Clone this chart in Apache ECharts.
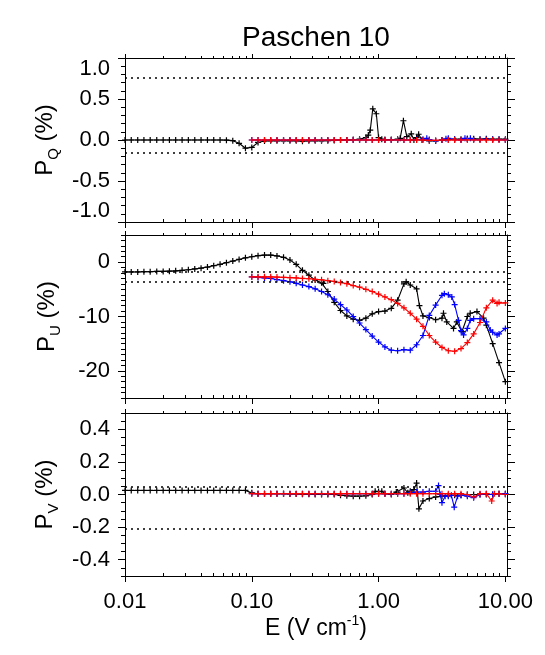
<!DOCTYPE html>
<html>
<head>
<meta charset="utf-8">
<script src="https://cdn.jsdelivr.net/npm/echarts@6/dist/echarts.min.js"></script>
<style>
  html, body { margin: 0; padding: 0; background: #fff; }
  #main { width: 545px; height: 655px; }
</style>
</head>
<body>
<div id="main"></div>
<script>
const FONT = '"Liberation Sans", Arial, sans-serif';

// tick values
const eTicks = [0.01, 0.1, 1, 10];
const qTicks = [-1, -0.5, 0, 0.5, 1];
const uTicks = [-20, -10, 0];
const vTicks = [-0.4, -0.2, 0, 0.2, 0.4];

// dotted reference levels
const qLevels = [0.76, -0.16];
const uLevels = [-1.7, -3.6];
const vLevels = [0.05, -0.21];

// P_Q (%)
const qBlack = [[0.0100,0],[0.0112,0],[0.0126,0],[0.0141,0],[0.0158,0],[0.0178,0],[0.0200,0],[0.0224,0],[0.0251,0],[0.0282,0],[0.0316,0],[0.0355,0],[0.0398,0],[0.0447,0],[0.0501,0],[0.0562,0],[0.0631,-0.002],[0.0708,-0.008],[0.0794,-0.04],[0.0891,-0.1],[0.100,-0.09],[0.112,-0.03],[0.126,-0.012],[0.141,-0.01],[0.158,-0.01],[0.178,-0.01],[0.200,-0.01],[0.224,-0.01],[0.251,-0.015],[0.282,-0.01],[0.316,-0.01],[0.355,-0.01],[0.398,-0.008],[0.447,-0.005],[0.501,0],[0.562,0],[0.631,0.005],[0.708,0.01],[0.794,0.03],[0.83,0.06],[0.86,0.12],[0.90,0.38],[0.96,0.32],[1.00,0.03],[1.06,0.01],[1.122,0.005],[1.259,0.005],[1.413,0.01],[1.48,0.02],[1.57,0.235],[1.67,0.04],[1.81,0.075],[1.90,0.0],[1.995,0.03],[2.07,0.07],[2.20,0.0],[2.512,-0.01],[2.818,-0.01],[3.162,0.0],[3.548,0.005],[3.981,0.01],[4.467,0.01],[5.012,0.015],[5.623,0.015],[6.310,0.01],[7.079,0.015],[7.943,0.01],[8.913,0.01],[10.00,0.01]];
const qBlue = [[0.100,0],[0.112,0],[0.126,0],[0.141,0],[0.158,0],[0.178,0],[0.200,0],[0.224,0],[0.251,0],[0.282,0],[0.316,0],[0.355,0],[0.398,0],[0.447,0],[0.501,0],[0.562,0],[0.631,0],[0.708,0],[0.794,0],[0.891,0],[1.000,0],[1.122,0],[1.259,0],[1.413,0],[1.585,0],[1.778,0],[1.995,0.005],[2.239,0.01],[2.40,0.02],[2.512,0.005],[2.818,-0.01],[3.162,0],[3.40,0.015],[3.548,0.02],[3.981,0.005],[4.467,0],[4.80,0.02],[5.012,0.015],[5.30,0.02],[5.623,0.005],[6.310,0.005],[7.079,0.01],[7.943,0.005],[8.913,0.005],[10.00,0]];
const qRed = [[0.100,0],[0.112,0],[0.126,0],[0.141,0],[0.158,0],[0.178,0],[0.200,0],[0.224,0],[0.251,0],[0.282,0],[0.316,0],[0.355,0],[0.398,0],[0.447,0],[0.501,0],[0.562,0],[0.631,0],[0.708,0],[0.794,0],[0.891,0],[1.000,0],[1.122,0],[1.259,0],[1.413,0],[1.585,0],[1.778,0],[1.995,0],[2.239,0],[2.512,-0.005],[2.818,-0.005],[3.162,0],[3.548,0],[3.981,0],[4.467,0],[5.012,0],[5.623,0],[6.310,0],[7.079,0],[7.943,0],[8.913,0],[10.00,0]];

// P_U (%)
const uBlack = [[0.0100,-1.8],[0.0112,-1.8],[0.0126,-1.8],[0.0141,-1.75],[0.0158,-1.75],[0.0178,-1.7],[0.0200,-1.7],[0.0224,-1.65],[0.0251,-1.6],[0.0282,-1.5],[0.0316,-1.4],[0.0355,-1.25],[0.0398,-1.1],[0.0447,-0.9],[0.0501,-0.65],[0.0562,-0.4],[0.0631,-0.1],[0.0708,0.2],[0.0794,0.5],[0.0891,0.8],[0.100,1.0],[0.112,1.2],[0.126,1.3],[0.141,1.3],[0.158,1.15],[0.178,0.9],[0.200,0.4],[0.224,-0.4],[0.251,-1.5],[0.282,-2.4],[0.316,-3.3],[0.355,-3.8],[0.367,-3.9],[0.398,-5.4],[0.447,-7.4],[0.501,-8.9],[0.562,-9.9],[0.631,-10.5],[0.708,-10.7],[0.794,-10.3],[0.891,-9.5],[1.000,-9.1],[1.122,-9.0],[1.259,-8.5],[1.413,-7.0],[1.585,-4.0],[1.65,-3.6],[1.778,-4.2],[1.995,-4.9],[2.10,-8.0],[2.239,-9.9],[2.512,-10.2],[2.818,-10.6],[3.162,-10.3],[3.25,-9.4],[3.45,-11.0],[3.90,-12.2],[4.14,-11.0],[4.54,-12.8],[5.012,-10.0],[5.28,-9.4],[5.97,-9.1],[6.73,-10.3],[7.079,-11.6],[7.943,-15.0],[8.913,-18.5],[10.00,-22.0]];
const uBlue = [[0.100,-2.7],[0.112,-2.8],[0.126,-2.9],[0.141,-3.0],[0.158,-3.2],[0.178,-3.4],[0.200,-3.6],[0.224,-3.9],[0.251,-4.2],[0.282,-4.5],[0.316,-4.9],[0.355,-5.4],[0.398,-6.0],[0.447,-6.8],[0.501,-7.8],[0.562,-8.8],[0.631,-10.0],[0.708,-11.2],[0.794,-12.4],[0.891,-13.6],[1.000,-14.7],[1.122,-15.6],[1.259,-16.2],[1.413,-16.3],[1.585,-16.1],[1.778,-16.2],[1.995,-15.2],[2.239,-13.5],[2.512,-9.8],[2.818,-7.9],[3.162,-6.1],[3.30,-5.8],[3.548,-6.0],[3.78,-6.4],[3.981,-7.8],[4.27,-10.7],[4.467,-12.6],[4.68,-13.4],[5.012,-12.2],[5.28,-10.7],[5.623,-10.4],[6.310,-10.4],[7.079,-11.0],[7.60,-12.5],[7.943,-12.9],[8.60,-13.4],[8.913,-13.2],[10.00,-12.2]];
const uRed = [[0.100,-2.7],[0.112,-2.7],[0.126,-2.7],[0.141,-2.7],[0.158,-2.75],[0.178,-2.8],[0.200,-2.85],[0.224,-2.9],[0.251,-3.0],[0.282,-3.05],[0.316,-3.15],[0.355,-3.25],[0.398,-3.4],[0.447,-3.55],[0.501,-3.75],[0.562,-3.95],[0.631,-4.3],[0.708,-4.6],[0.794,-5.0],[0.891,-5.4],[1.000,-5.9],[1.122,-6.4],[1.259,-6.9],[1.413,-7.6],[1.585,-8.4],[1.778,-9.4],[1.995,-10.5],[2.239,-11.8],[2.512,-13.5],[2.818,-14.7],[3.162,-15.7],[3.548,-16.3],[3.981,-16.4],[4.467,-15.9],[5.012,-14.8],[5.623,-13.2],[6.310,-11.1],[7.079,-8.4],[7.943,-7.0],[8.60,-7.6],[8.913,-7.4],[10.00,-7.5]];

// P_V (%)
const vBlack = [[0.0100,0.025],[0.0112,0.025],[0.0126,0.025],[0.0141,0.025],[0.0158,0.025],[0.0178,0.025],[0.0200,0.025],[0.0224,0.025],[0.0251,0.025],[0.0282,0.025],[0.0316,0.025],[0.0355,0.025],[0.0398,0.025],[0.0447,0.025],[0.0501,0.025],[0.0562,0.025],[0.0631,0.025],[0.0708,0.025],[0.0794,0.025],[0.0891,0.025],[0.100,0.01],[0.112,0.005],[0.126,0.005],[0.141,0.005],[0.158,0.005],[0.178,0.005],[0.200,0.003],[0.224,0.003],[0.251,0.002],[0.282,0.002],[0.316,0.0],[0.355,0.0],[0.398,0.0],[0.447,0.0],[0.501,-0.005],[0.562,-0.008],[0.631,-0.01],[0.708,-0.01],[0.794,-0.008],[0.891,0.0],[0.94,0.02],[1.00,0.018],[1.06,0.02],[1.122,0.005],[1.259,0.0],[1.38,0.015],[1.413,0.015],[1.585,0.04],[1.70,0.01],[1.778,0.02],[1.90,0.03],[1.995,0.07],[2.08,-0.088],[2.239,-0.04],[2.512,-0.025],[2.818,-0.015],[3.162,-0.01],[3.548,-0.005],[3.981,-0.005],[4.467,-0.005],[5.012,0.0],[5.623,0.0],[6.310,0.0],[7.079,0.0],[7.943,0.0],[8.913,0.005],[10.00,0.005]];
const vBlue = [[0.100,0.005],[0.112,0.005],[0.126,0.005],[0.141,0.005],[0.158,0.005],[0.178,0.005],[0.200,0.005],[0.224,0.005],[0.251,0.005],[0.282,0.005],[0.316,0.005],[0.355,0.005],[0.398,0.005],[0.447,0.005],[0.501,0.005],[0.562,0.005],[0.631,0.005],[0.708,0.005],[0.794,0.005],[0.891,0.005],[1.000,0.005],[1.122,0.005],[1.259,0.005],[1.413,0.005],[1.585,0.005],[1.778,0.01],[1.995,0.015],[2.239,0.015],[2.512,0.02],[2.818,0.02],[2.97,0.055],[3.06,0.0],[3.162,-0.05],[3.35,-0.01],[3.548,-0.01],[3.75,-0.005],[3.95,-0.078],[4.20,-0.01],[4.467,-0.005],[5.012,-0.01],[5.623,-0.02],[6.310,0.0],[7.079,0.005],[7.943,0.0],[8.913,0.005],[10.00,0.005]];
const vRed = [[0.100,0.005],[0.112,0.005],[0.126,0.005],[0.141,0.005],[0.158,0.005],[0.178,0.005],[0.200,0.005],[0.224,0.005],[0.251,0.005],[0.282,0.005],[0.316,0.005],[0.355,0.005],[0.398,0.005],[0.447,0.005],[0.501,0.005],[0.562,0.005],[0.631,0.005],[0.708,0.005],[0.794,0.005],[0.891,0.005],[1.000,0.005],[1.122,0.005],[1.259,0.005],[1.413,0.005],[1.585,0.005],[1.778,0.005],[1.995,0.005],[2.239,0.005],[2.512,0.005],[2.818,0.005],[3.162,0.005],[3.548,0.005],[3.981,0.005],[4.467,0.005],[5.012,0.0],[5.623,-0.015],[6.310,0.005],[7.079,0.005],[7.80,-0.04],[8.20,0.005],[8.913,0.005],[10.00,0.0]];

const chart = echarts.init(document.getElementById('main'), null, { renderer: 'canvas' });

const PLUS = 'path://M0,4H10V6H0ZM4,0H6V10H4Z';
const AXIS_COLOR = '#000';

// minor tick positions
function logMinor() {
  const out = [];
  [0.01, 0.1, 1].forEach(d => {
    for (let k = 2; k <= 9; k++) out.push(+(d * k).toPrecision(3));
  });
  return out;
}
function linMinor(min, max, step) {
  const out = [];
  const n = Math.round((max - min) / step);
  for (let i = 0; i <= n; i++) out.push(+(min + i * step).toFixed(4));
  return out;
}

const panels = [
  { top: 58, height: 164, min: -1, max: 1, ticks: qTicks, minor: linMinor(-1, 1, 0.1),
    fmt: v => v.toFixed(1), name: '{p|P}{s|Q}{p| (%)}', levels: qLevels, edge: true,
    data: [qBlack, qBlue, qRed] },
  { top: 235, height: 163, min: -25, max: 5, ticks: uTicks, minor: linMinor(-25, 5, 1),
    fmt: v => String(v), name: '{p|P}{s|U}{p| (%)}', levels: uLevels, edge: false,
    data: [uBlack, uBlue, uRed] },
  { top: 413, height: 163, min: -0.5, max: 0.5, ticks: vTicks, minor: linMinor(-0.5, 0.5, 0.05),
    fmt: v => v.toFixed(1), name: '{p|P}{s|V}{p| (%)}', levels: vLevels, edge: false,
    data: [vBlack, vBlue, vRed] }
];

const grid = [], xAxis = [], yAxis = [], series = [];
const nameRich = {
  p: { fontSize: 24, fontFamily: FONT, color: '#000', lineHeight: 32 },
  s: { fontSize: 15, fontFamily: FONT, color: '#000', verticalAlign: 'bottom' },
  u: { fontSize: 14, fontFamily: FONT, color: '#000', verticalAlign: 'top' }
};
const xNameRich = {
  p: { fontSize: 23, fontFamily: FONT, color: '#000', lineHeight: 30 },
  u: { fontSize: 14, fontFamily: FONT, color: '#000', verticalAlign: 'top' }
};

panels.forEach((p, i) => {
  grid.push({ left: 125, width: 382, top: p.top, height: p.height });
  const last = i === panels.length - 1;
  const xBase = { gridIndex: i, type: 'log', min: 0.01, max: 10.3, splitLine: { show: false } };
  // bottom major
  xAxis.push(Object.assign({}, xBase, {
    position: 'bottom',
    axisLine: { show: true, onZero: false, lineStyle: { color: AXIS_COLOR, width: 1 } },
    axisTick: { show: true, inside: false, length: 6, customValues: eTicks, lineStyle: { color: AXIS_COLOR } },
    axisLabel: { show: last, customValues: eTicks, margin: 15, fontSize: 22, fontFamily: FONT, color: '#000',
      formatter: v => v.toFixed(2) },
    name: last ? '{p|E (V cm}{u|-1}{p|)}' : '',
    nameLocation: 'middle', nameGap: 36,
    nameTextStyle: { rich: xNameRich }
  }));
  // bottom minor
  xAxis.push(Object.assign({}, xBase, {
    position: 'bottom',
    axisLine: { show: false, onZero: false },
    axisTick: { show: true, inside: true, length: 3, customValues: logMinor(), lineStyle: { color: AXIS_COLOR } },
    axisLabel: { show: false }
  }));
  // top major
  xAxis.push(Object.assign({}, xBase, {
    position: 'top',
    axisLine: { show: true, onZero: false, lineStyle: { color: AXIS_COLOR, width: 1 } },
    axisTick: { show: true, inside: false, length: 4, customValues: eTicks, lineStyle: { color: AXIS_COLOR } },
    axisLabel: { show: false }
  }));
  // top minor
  xAxis.push(Object.assign({}, xBase, {
    position: 'top',
    axisLine: { show: false, onZero: false },
    axisTick: { show: true, inside: false, length: 2, customValues: logMinor(), lineStyle: { color: AXIS_COLOR } },
    axisLabel: { show: false }
  }));

  const yBase = { gridIndex: i, type: 'value', min: p.min, max: p.max, splitLine: { show: false } };
  const label = { show: true, customValues: p.ticks, margin: 15, fontSize: 22, fontFamily: FONT, color: '#000',
    formatter: p.fmt };
  if (p.edge) {
    label.verticalAlignMinLabel = 'bottom';
    label.verticalAlignMaxLabel = 'top';
  }
  // left major
  yAxis.push(Object.assign({}, yBase, {
    position: 'left',
    axisLine: { show: true, onZero: false, lineStyle: { color: AXIS_COLOR, width: 1 } },
    axisTick: { show: true, inside: false, length: 7, customValues: p.ticks, lineStyle: { color: AXIS_COLOR } },
    axisLabel: label,
    name: p.name, nameLocation: 'middle', nameGap: 62,
    nameTextStyle: { rich: nameRich }
  }));
  // left minor
  yAxis.push(Object.assign({}, yBase, {
    position: 'left',
    axisLine: { show: false, onZero: false },
    axisTick: { show: true, inside: false, length: 4, customValues: p.minor, lineStyle: { color: AXIS_COLOR } },
    axisLabel: { show: false }
  }));
  // right major
  yAxis.push(Object.assign({}, yBase, {
    position: 'right',
    axisLine: { show: true, onZero: false, lineStyle: { color: AXIS_COLOR, width: 1 } },
    axisTick: { show: true, inside: false, length: 8, customValues: p.ticks, lineStyle: { color: AXIS_COLOR } },
    axisLabel: { show: false }
  }));
  // right minor
  yAxis.push(Object.assign({}, yBase, {
    position: 'right',
    axisLine: { show: false, onZero: false },
    axisTick: { show: true, inside: false, length: 4, customValues: p.minor, lineStyle: { color: AXIS_COLOR } },
    axisLabel: { show: false }
  }));

  const colors = ['#000000', '#0000ff', '#ff0000'];
  p.data.forEach((d, k) => {
    const s = {
      type: 'line',
      xAxisIndex: i * 4,
      yAxisIndex: i * 4,
      data: d,
      symbol: PLUS,
      symbolSize: 6,
      showSymbol: true,
      showAllSymbol: true,
      lineStyle: { color: colors[k], width: 1.1 },
      itemStyle: { color: colors[k] },
      z: 2 + k,
      silent: true
    };
    if (k === 0) {
      s.markLine = {
        silent: true,
        symbol: 'none',
        label: { show: false },
        lineStyle: { color: '#000', type: [2, 4], width: 1.5 },
        data: p.levels.map(v => ({ yAxis: v }))
      };
    }
    series.push(s);
  });
});

chart.setOption({
  animation: false,
  backgroundColor: '#fff',
  title: {
    text: 'Paschen 10',
    left: 316, top: 24, textAlign: 'center', padding: 0,
    textStyle: { fontSize: 28, fontWeight: 'normal', fontFamily: FONT, color: '#000' }
  },
  grid, xAxis, yAxis, series
});
</script>
</body>
</html>
